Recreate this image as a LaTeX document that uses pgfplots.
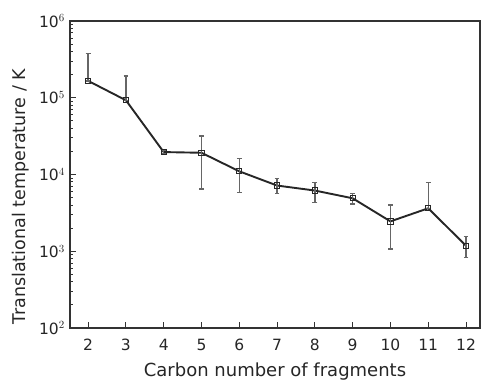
\documentclass[border=0pt]{standalone}
\usepackage{pgfplots}
\pgfplotsset{compat=1.18}
\usepackage{fontspec}
\setmainfont{DejaVu Sans}
\begin{document}
\begin{tikzpicture}
\begin{axis}[
  scale only axis,
  width=410pt, height=307pt,
  ymode=log,
  xmin=1.52, xmax=12.37,
  ymin=1e2, ymax=1e6,
  xtick={2,3,4,5,6,7,8,9,10,11,12},
  ytick={1e2,1e3,1e4,1e5,1e6},
  yticklabels={10$^{2}$,10$^{3}$,10$^{4}$,10$^{5}$,10$^{6}$},
  tick align=inside,
  xtick pos=bottom, ytick pos=left,
  major tick length=6pt, minor tick length=3pt,
  axis line style={line width=1.2pt, black!80},
  tick style={line width=1pt, black!80},
  every tick label/.append style={font=\fontsize{15.5}{15.5}\selectfont, text=black!85},
  xticklabel style={anchor=center, yshift=-17pt},
  yticklabel style={anchor=east, inner sep=0pt, xshift=-5pt},
  /pgf/number format/assume math mode=true,
  xlabel={Carbon number of fragments},
  ylabel={Translational temperature / K},
  label style={text=black!85},
  xlabel style={font=\fontsize{18}{18}\selectfont, at={([yshift=-44pt]axis description cs:0.5,0)}, anchor=center},
  ylabel style={font=\fontsize{17.5}{17.5}\selectfont, at={([xshift=-49pt,yshift=-22pt]axis description cs:0,0.5)}, anchor=center},
]
\addplot[
  black!85, line width=1.9pt,
  mark=square, mark size=2.6pt,
  mark options={fill=white, line width=0.9pt, solid},
  error bars/.cd,
  y dir=both, y explicit,
  error bar style={line width=1.3pt, black!60},
  error mark options={rotate=90, mark size=2.4pt, line width=1.3pt, black!60},
] table[x=x, y=y, y error plus=ep, y error minus=em] {
x y ep em
2 166000 212000 0
3 92700 100000 0
4 19600 800 800
5 19200 12500 12700
6 11000 5000 5230
7 7180 1610 1580
8 6180 1750 1830
9 4900 700 760
10 2450 1570 1380
11 3630 4300 0
12 1180 370 350
};
\end{axis}
\pgfresetboundingbox
\path[use as bounding box] ([xshift=-70pt,yshift=-54pt]current axis.south west) rectangle ([xshift=1pt,yshift=21pt]current axis.north east);
\end{tikzpicture}
\end{document}
